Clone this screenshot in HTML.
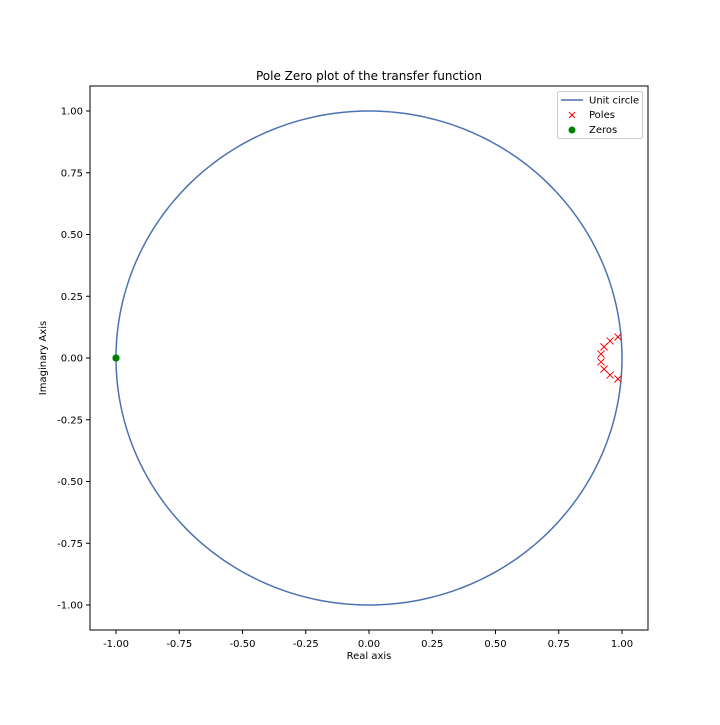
<!DOCTYPE html>
<html><head><meta charset="utf-8"><style>
body{margin:0;background:#fff;}
text{font-family:"DejaVu Sans","Liberation Sans",sans-serif;}
</style></head><body>
<svg id="chart" width="720" height="720">
<rect width="720" height="720" fill="#fff"/>
<g id="plot"></g>
</svg>
<script>
const poleRe=[0.984,0.953,0.929,0.917,0.917,0.929,0.953,0.984];
const poleIm=[0.085,0.069,0.045,0.016,-0.016,-0.045,-0.069,-0.085];
const zeroRe=[-1,-1,-1];
const zeroIm=[0,0,0];
const xTicks=[-1,-0.75,-0.5,-0.25,0,0.25,0.5,0.75,1];
const yTicks=[-1,-0.75,-0.5,-0.25,0,0.25,0.5,0.75,1];
const L=90,R=648,T=86,B=630;
const sx=v=>369+v*253, sy=v=>358-v*247;
const NS='http://www.w3.org/2000/svg';
const g=document.getElementById('plot');
function mk(t,a,p){const e=document.createElementNS(NS,t);for(const k in a)e.setAttribute(k,a[k]);(p||g).appendChild(e);return e;}
// unit circle
let d='';for(let i=0;i<=360;i++){const a=i*Math.PI/180;d+=(i?'L':'M')+sx(Math.cos(a)).toFixed(2)+' '+sy(Math.sin(a)).toFixed(2);}
const c=mk('path',{d:d,fill:'none',stroke:'#4c72b0','stroke-width':1.5});


// poles
poleRe.forEach((r,i)=>{const x=sx(r),y=sy(poleIm[i]);const p=mk('path',{d:`M${x-3.5} ${y-3.5}L${x+3.5} ${y+3.5}M${x-3.5} ${y+3.5}L${x+3.5} ${y-3.5}`,stroke:'red','stroke-width':1});

});
zeroRe.forEach((r,i)=>{const z=mk('circle',{cx:sx(r),cy:sy(zeroIm[i]),r:3.5,fill:'green'});

});
// frame
const f=mk('rect',{x:L,y:T,width:R-L,height:B-T,fill:'none',stroke:'#000','stroke-width':1});


xTicks.forEach(v=>{const x=sx(v);mk('line',{x1:x,x2:x,y1:B,y2:B+4,stroke:'#000'});
const t=mk('text',{x:x,y:B+17,'font-size':10,'text-anchor':'middle'});t.textContent=v.toFixed(2);

});
yTicks.forEach(v=>{const y=sy(v);mk('line',{x1:L-4,x2:L,y1:y,y2:y,stroke:'#000'});
const t=mk('text',{x:L-7,y:y+3.5,'font-size':10,'text-anchor':'end'});t.textContent=v.toFixed(2);

});
</script>
<svg width="720" height="720" style="position:absolute;left:0;top:0">
<text x="369" y="80" font-size="12" text-anchor="middle">Pole Zero plot of the transfer function</text>
<text x="369" y="659" font-size="10" text-anchor="middle">Real axis</text>
<text x="46" y="358" font-size="10" text-anchor="middle" transform="rotate(-90 46 358)">Imaginary Axis</text>
<g>
<rect x="557.5" y="91.5" width="85" height="47" rx="2" fill="#fff" stroke="#ccc"/>
<line x1="561" x2="583" y1="100" y2="100" stroke="#4c72b0" stroke-width="1.5"/>
<text x="589" y="103.5" font-size="10">Unit circle</text>
<path d="M569 112L575 118M569 118L575 112" stroke="red"/>
<text x="589" y="118" font-size="10">Poles</text>
<circle cx="572" cy="130" r="3.5" fill="green"/>
<text x="589" y="133" font-size="10">Zeros</text>
</g>
</svg>
</body></html>
